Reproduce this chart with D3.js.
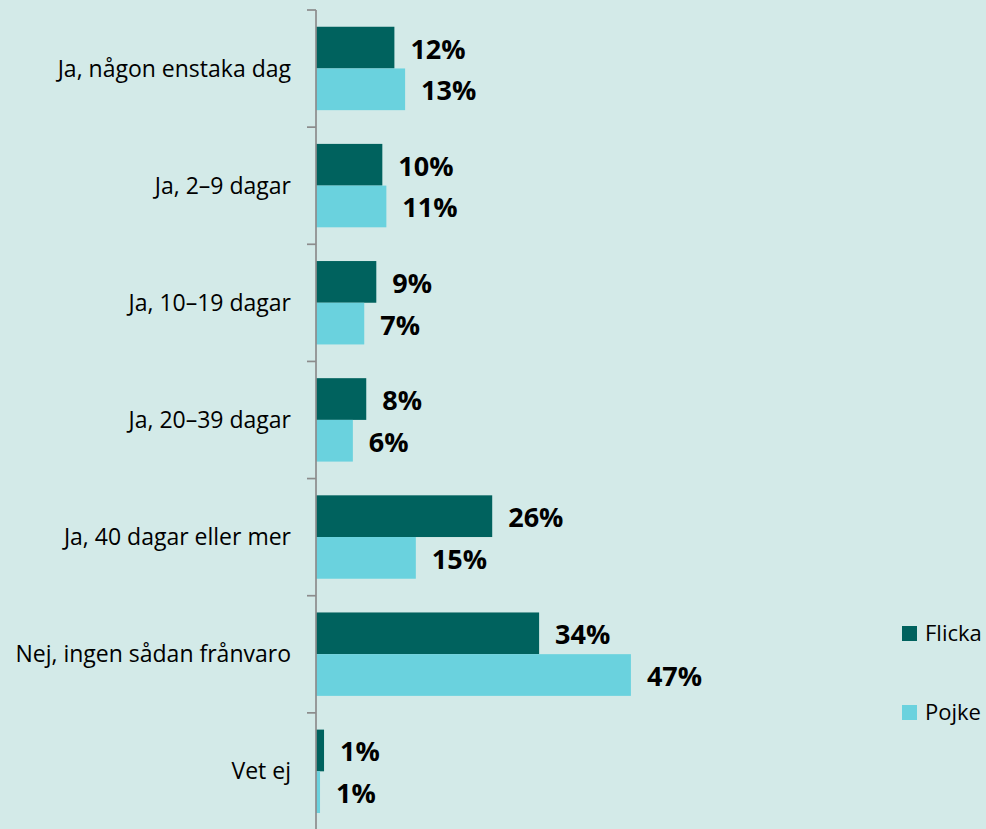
<!DOCTYPE html>
<html>
<head>
  <meta charset="utf-8">
  <style type="text/css">
    body {
      margin: 0;
      background: #d3eae8;
    }
    svg {
      display: block;
      font-family: "Open Sans", sans-serif;
    }
  </style>
  <script src="https://d3js.org/d3.v7.min.js"></script>
</head>
<body>
  <div id="chart"></div>
  <script type="text/javascript">
    // categories (top to bottom)
    var categories = ["Ja, någon enstaka dag", "Ja, 2–9 dagar", "Ja, 10–19 dagar",
                      "Ja, 20–39 dagar", "Ja, 40 dagar eller mer",
                      "Nej, ingen sådan frånvaro", "Vet ej"];
    var seriesNames = ["Flicka", "Pojke"];

    // values in percent
    var flicka = [11.7, 9.9, 9.0, 7.5, 26.3, 33.3, 1.2];
    var pojke = [13.3, 10.5, 7.2, 5.5, 14.9, 47.0, 0.6];

    // data labels as printed in the chart
    var flickaLabels = ["12%", "10%", "9%", "8%", "26%", "34%", "1%"];
    var pojkeLabels = ["13%", "11%", "7%", "6%", "15%", "47%", "1%"];

    var colors = { Flicka: "#00625e", Pojke: "#6ad2de" };

    var width = 986,
        height = 829,
        axisX = 316;

    var svg = d3.select("#chart")
      .append("svg")
        .attr("width", width)
        .attr("height", height);

    svg.append("rect")
      .attr("width", width)
      .attr("height", height)
      .attr("fill", "#d3eae8");

    var x = d3.scaleLinear()
      .domain([0, 50])
      .range([axisX, axisX + 335]);

    var y = d3.scaleBand()
      .domain(categories)
      .range([10, 830]);

    var barH = y.bandwidth() * 0.356,
        barOff = y.bandwidth() * 0.143;

    var rows = categories.map(function(c, i) {
      return [
        { cat: c, name: "Flicka", value: flicka[i], label: flickaLabels[i], k: 0 },
        { cat: c, name: "Pojke", value: pojke[i], label: pojkeLabels[i], k: 1 }
      ];
    });
    var bars = [].concat.apply([], rows);

    // bars
    svg.append("g")
      .selectAll("rect")
      .data(bars)
      .enter().append("rect")
        .attr("x", x(0))
        .attr("y", function(d) { return y(d.cat) + barOff + d.k * barH; })
        .attr("width", function(d) { return x(d.value) - x(0); })
        .attr("height", barH)
        .attr("fill", function(d) { return colors[d.name]; });

    // value labels
    svg.append("g")
      .selectAll("text")
      .data(bars)
      .enter().append("text")
        .attr("x", function(d) { return x(d.value) + 16; })
        .attr("y", function(d) { return y(d.cat) + barOff + d.k * barH + barH / 2 + 11; })
        .style("font-size", "27px")
        .style("font-weight", "bold")
        .attr("fill", "#000")
        .text(function(d) { return d.label; });

    // category axis
    var yAxis = d3.axisLeft(y)
      .tickSize(0)
      .tickPadding(25);

    var ax = svg.append("g")
      .attr("transform", "translate(" + axisX + ",0)")
      .call(yAxis);
    ax.select(".domain").remove();
    ax.selectAll("text")
      .style("font-size", "23px")
      .style("font-family", "'Open Sans', sans-serif")
      .attr("fill", "#000")
      .attr("dy", "0.35em");

    // axis line with ticks between categories
    svg.append("line")
      .attr("x1", axisX).attr("x2", axisX)
      .attr("y1", y.range()[0]).attr("y2", y.range()[1])
      .attr("stroke", "#8c8c8c")
      .attr("stroke-width", 1.7);

    var edges = categories.map(function(c) { return y(c); }).concat([y.range()[1]]);
    svg.append("g")
      .selectAll("line")
      .data(edges)
      .enter().append("line")
        .attr("x1", axisX - 9).attr("x2", axisX)
        .attr("y1", function(d) { return d; })
        .attr("y2", function(d) { return d; })
        .attr("stroke", "#8c8c8c")
        .attr("stroke-width", 1.7);

    // legend
    var legend = svg.append("g")
      .selectAll("g")
      .data(seriesNames)
      .enter().append("g")
        .attr("transform", function(d, i) { return "translate(902," + (626 + i * 79) + ")"; });

    legend.append("rect")
      .attr("width", 15)
      .attr("height", 15)
      .attr("fill", function(d) { return colors[d]; });

    legend.append("text")
      .attr("x", 23)
      .attr("y", 7.5)
      .attr("dy", "0.35em")
      .style("font-size", "22px")
      .attr("fill", "#000")
      .text(function(d) { return d; });
  </script>
</body>
</html>
